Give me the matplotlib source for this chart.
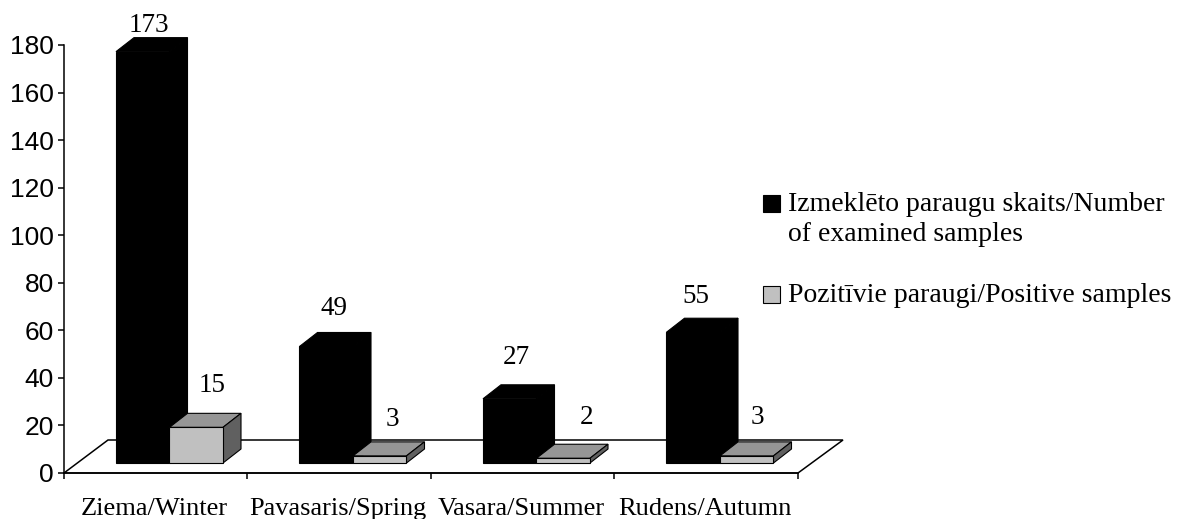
import matplotlib
matplotlib.use("Agg")
import matplotlib.pyplot as plt
from matplotlib.patches import Polygon, Rectangle

seasons = ["Ziema/Winter", "Pavasaris/Spring", "Vasara/Summer", "Rudens/Autumn"]
examined = [173, 49, 27, 55]
positive = [15, 3, 2, 3]
y_ticks = [0, 20, 40, 60, 80, 100, 120, 140, 160, 180]
legend_labels = ["Izmeklēto paraugu skaits/Number\nof examined samples",
                 "Pozitīvie paraugi/Positive samples"]

W, H = 1189, 519
AX_L, AX_R, AX_T, AX_B = 64, 798, 45, 473
PX_X = len(seasons) / (AX_R - AX_L)  # data units per pixel
PX_Y = 180 / (AX_B - AX_T)

BAR_W = 53.5 * PX_X
DEPTH_X = 18 * PX_X
DEPTH_Y = 14 * PX_Y
BASE = 10 * PX_Y
START = 52 * PX_X

# label offsets in px from the bar's front top-left corner
examined_off = [(33, 26), (35, 38), (33, 41), (29, 36)]
positive_off = [(43, 42), (39, 36), (50, 41), (37, 38)]

SERIF = "Liberation Serif"
FRONT = {"black": "black", "grey": "#c0c0c0"}
TOP = {"black": "black", "grey": "#969696"}
SIDE = {"black": "black", "grey": "#606060"}


def draw_bar(ax, x, value, kind):
    """Fake-3D bar: front face plus top and side polygons."""
    top = BASE + value
    ax.add_patch(Polygon([(x, top), (x + DEPTH_X, top + DEPTH_Y),
                          (x + BAR_W + DEPTH_X, top + DEPTH_Y), (x + BAR_W, top)],
                         facecolor=TOP[kind], edgecolor="black", linewidth=0.8,
                         clip_on=False, zorder=3))
    ax.add_patch(Polygon([(x + BAR_W, BASE), (x + BAR_W + DEPTH_X, BASE + DEPTH_Y),
                          (x + BAR_W + DEPTH_X, top + DEPTH_Y), (x + BAR_W, top)],
                         facecolor=SIDE[kind], edgecolor="black", linewidth=0.8,
                         clip_on=False, zorder=3))
    ax.bar(x, value, width=BAR_W, bottom=BASE, align="edge", color=FRONT[kind],
           edgecolor="black", linewidth=0.8, clip_on=False, zorder=3)


def value_label(ax, x, value, off):
    ax.annotate(str(value), xy=(x, BASE + value),
                xytext=(off[0] * 0.72, off[1] * 0.72), textcoords="offset points",
                ha="center", va="center", fontsize=19.5, family=SERIF,
                annotation_clip=False, zorder=5)


fig = plt.figure(figsize=(W / 100, H / 100), dpi=100)
ax = fig.add_axes([AX_L / W, 1 - AX_B / H, (AX_R - AX_L) / W, (AX_B - AX_T) / H])
ax.set_xlim(0, len(seasons))
ax.set_ylim(0, 180)

# floor
ax.add_patch(Polygon([(0, 0), (44 * PX_X, 33 * PX_Y),
                      (len(seasons) + 45 * PX_X, 33 * PX_Y), (len(seasons), 0)],
                     closed=True, fill=False, edgecolor="black", linewidth=1.1,
                     clip_on=False, zorder=1))

for i, season in enumerate(seasons):
    x0 = i + START
    x1 = x0 + BAR_W
    draw_bar(ax, x0, examined[i], "black")
    draw_bar(ax, x1, positive[i], "grey")
    value_label(ax, x0, examined[i], examined_off[i])
    value_label(ax, x1, positive[i], positive_off[i])

ax.set_yticks(y_ticks)
ax.tick_params(axis="y", labelsize=19, length=4.3, width=1.1, pad=3)
for t in ax.get_yticklabels():
    t.set_family("Liberation Sans")

ax.set_xticks(range(len(seasons) + 1))
ax.set_xticklabels([])
ax.tick_params(axis="x", length=4.3, width=1.1)
for i, season in enumerate(seasons):
    ax.annotate(season, xy=(i + 0.5, 0), xytext=(-1, -42 * 0.72),
                textcoords="offset points", ha="center", va="baseline",
                fontsize=19, family=SERIF, annotation_clip=False)

ax.spines[["top", "right"]].set_visible(False)
ax.spines[["left", "bottom"]].set_linewidth(1.1)

# legend by hand: the swatch sits on the first text line
for label, color, top_px in zip(legend_labels, ["black", "#c0c0c0"], [192, 283]):
    fig.add_artist(Rectangle((763 / W, 1 - (top_px + 20) / H), 17 / W, 17 / H,
                             transform=fig.transFigure, facecolor=color,
                             edgecolor="black", linewidth=0.8))
    fig.text(788 / W, 1 - top_px / H, label, ha="left", va="top",
             family=SERIF, fontsize=20, linespacing=1.27)

fig.savefig("out.png", dpi=100)
